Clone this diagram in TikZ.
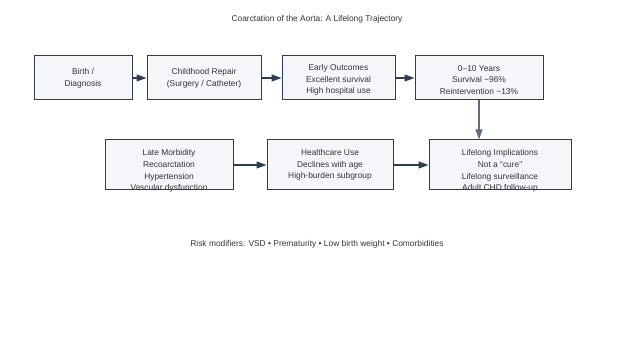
\documentclass[tikz,border=0pt]{standalone}
\usepackage{fontspec}
\setmainfont{Liberation Sans}
\usepackage{xcolor}
\usetikzlibrary{arrows.meta}

\definecolor{boxedge}{HTML}{2C3E50}
\definecolor{boxfill}{HTML}{F4F6FA}
\definecolor{arrowdark}{HTML}{2C3E50}
\definecolor{arrowgray}{HTML}{5D6D7E}
\definecolor{textgray}{HTML}{333333}

\begin{document}
\begin{tikzpicture}[x=1pt, y=-1pt,
            stage/.style={rectangle, draw=boxedge, fill=boxfill, line width=1pt, inner sep=0pt},
            stage_txt/.style={align=center, inner sep=0pt, text=textgray,
            font=\fontsize{8.4}{11.8}\selectfont},
            flow/.style={-{Triangle[length=10pt, width=7pt]}, line width=1.2pt, draw=arrowdark},
            drop/.style={flow, draw=arrowgray},
            note_style/.style={inner sep=0pt, text=textgray, font=\fontsize{8.4}{10}\selectfont}
        ]
            \useasboundingbox (0,0) rectangle (634,352);

            % Title
            \node[note_style] (title) at (317, 19) {Coarctation of the Aorta: A Lifelong Trajectory};

            % Top row
            \node[stage, minimum width=98pt,  minimum height=44pt] (birth)  at (83,  78) {};
            \node[stage, minimum width=114pt, minimum height=44pt] (repair) at (204, 78) {};
            \node[stage, minimum width=113pt, minimum height=44pt] (early)  at (338.5, 78) {};
            \node[stage, minimum width=128pt, minimum height=44pt] (decade) at (479, 78) {};

            \node[stage_txt] (birth_txt)  at (83, 78)    {Birth /\\Diagnosis};
            \node[stage_txt] (repair_txt) at (204, 78)   {Childhood Repair\\(Surgery / Catheter)};
            \node[stage_txt] (early_txt)  at (338.5, 80) {Early Outcomes\\Excellent survival\\High hospital use};
            \node[stage_txt] (decade_txt) at (479, 80)   {0--10 Years\\Survival \textasciitilde96\%\\Reintervention \textasciitilde13\%};

            % Bottom row
            \node[stage, minimum width=128pt, minimum height=50pt] (late)     at (169, 165) {};
            \node[stage, minimum width=126pt, minimum height=50pt] (care)     at (330, 165) {};
            \node[stage, minimum width=142pt, minimum height=50pt] (lifelong) at (500, 165) {};

            \node[stage_txt] (late_txt)     at (169, 171) {Late Morbidity\\Recoarctation\\Hypertension\\Vascular dysfunction};
            \node[stage_txt] (care_txt)     at (330, 165) {Healthcare Use\\Declines with age\\High-burden subgroup};
            \node[stage_txt] (lifelong_txt) at (500, 171) {Lifelong Implications\\Not a \textquotedblleft cure\textquotedblright\\Lifelong surveillance\\Adult CHD follow-up};

            % Flow arrows
            \foreach \a/\b in {birth/repair, repair/early, early/decade, late/care, care/lifelong} {
                \draw[flow] (\a.east) -- (\b.west);
            }
            \draw[drop] (decade.south) -- (decade.south |- lifelong.north);

            % Risk modifiers
            \node[note_style] (risk) at (317, 244)
                {Risk modifiers: VSD \textbullet{} Prematurity \textbullet{} Low birth weight \textbullet{} Comorbidities};

        \end{tikzpicture}
\end{document}
